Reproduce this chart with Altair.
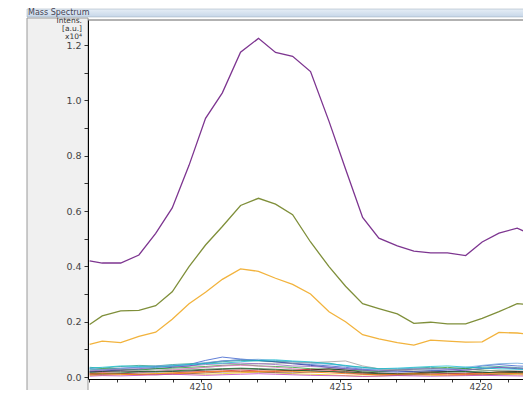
import altair as alt
import pandas as pd

# m/z positions of the spectrum points
mz = [4206.04, 4206.49, 4207.15, 4207.80, 4208.40, 4208.99, 4209.59, 4210.18, 4210.78,
      4211.43, 4212.07, 4212.68, 4213.29, 4213.93, 4214.59, 4215.18, 4215.79, 4216.37,
      4217.03, 4217.62, 4218.22, 4218.82, 4219.47, 4220.06, 4220.66, 4221.31, 4221.83]

# intensities (x10^4 a.u.)
purple = [0.420, 0.412, 0.412, 0.441, 0.519, 0.611, 0.765, 0.935, 1.027, 1.174, 1.224, 1.173, 1.159,
          1.104, 0.924, 0.752, 0.577, 0.502, 0.474, 0.455, 0.449, 0.449, 0.439, 0.488, 0.520, 0.538, 0.514]
olive = [0.190, 0.221, 0.239, 0.241, 0.258, 0.308, 0.399, 0.477, 0.544, 0.620, 0.646, 0.625, 0.587,
         0.488, 0.399, 0.328, 0.265, 0.247, 0.228, 0.194, 0.198, 0.192, 0.192, 0.212, 0.236, 0.265, 0.261]
orange = [0.118, 0.130, 0.124, 0.147, 0.162, 0.209, 0.265, 0.306, 0.353, 0.391, 0.382, 0.357, 0.335,
          0.300, 0.236, 0.200, 0.153, 0.138, 0.124, 0.115, 0.133, 0.130, 0.126, 0.127, 0.161, 0.159, 0.153]

noise_colors = ["#3a5fcd", "#1f2f9f", "#2a9d8f", "#2ca02c", "#6fa8dc", "#a0a0a0", "#e377c2", "#d62728",
                "#202020", "#e8d020", "#9467bd", "#8c564b", "#1a6b2a", "#ff7f0e", "#17becf", "#c040c0"]
noise = [
    [0.030,0.028,0.032,0.035,0.038,0.040,0.045,0.060,0.072,0.065,0.060,0.055,0.050,0.045,0.040,0.035,0.028,0.025,0.022,0.020,0.022,0.025,0.030,0.040,0.045,0.040,0.038],
    [0.020,0.022,0.025,0.028,0.030,0.035,0.040,0.050,0.058,0.062,0.060,0.055,0.048,0.042,0.035,0.030,0.025,0.020,0.018,0.020,0.022,0.020,0.025,0.030,0.035,0.030,0.028],
    [0.035,0.032,0.038,0.042,0.040,0.045,0.048,0.050,0.055,0.060,0.058,0.057,0.055,0.052,0.050,0.040,0.035,0.030,0.028,0.032,0.035,0.030,0.032,0.035,0.038,0.034,0.030],
    [0.025,0.030,0.028,0.025,0.030,0.032,0.035,0.038,0.042,0.045,0.040,0.038,0.035,0.030,0.028,0.025,0.022,0.020,0.025,0.028,0.030,0.035,0.030,0.025,0.022,0.020,0.018],
    [0.028,0.026,0.030,0.035,0.040,0.042,0.045,0.052,0.058,0.062,0.064,0.060,0.056,0.050,0.046,0.040,0.030,0.028,0.030,0.032,0.028,0.030,0.035,0.042,0.048,0.050,0.046],
    [0.015,0.018,0.020,0.022,0.025,0.028,0.030,0.035,0.040,0.045,0.048,0.050,0.050,0.052,0.055,0.058,0.040,0.030,0.025,0.022,0.020,0.018,0.020,0.022,0.025,0.022,0.020],
    [0.010,0.008,0.012,0.015,0.020,0.025,0.030,0.035,0.040,0.042,0.040,0.035,0.030,0.025,0.020,0.015,0.012,0.010,0.008,0.010,0.015,0.012,0.010,0.012,0.015,0.018,0.015],
    [0.012,0.015,0.013,0.010,0.012,0.015,0.018,0.020,0.022,0.025,0.022,0.020,0.024,0.028,0.025,0.020,0.015,0.012,0.010,0.012,0.015,0.013,0.012,0.015,0.018,0.016,0.014],
    [0.018,0.020,0.022,0.020,0.018,0.020,0.022,0.025,0.028,0.030,0.028,0.025,0.022,0.025,0.030,0.025,0.018,0.015,0.012,0.015,0.018,0.020,0.018,0.015,0.018,0.020,0.018],
    [0.005,0.006,0.008,0.010,0.012,0.015,0.012,0.010,0.012,0.015,0.018,0.015,0.012,0.010,0.008,0.005,0.003,0.004,0.006,0.008,0.006,0.005,0.006,0.008,0.010,0.008,0.006],
    [0.022,0.025,0.028,0.030,0.035,0.038,0.040,0.045,0.048,0.050,0.048,0.045,0.040,0.038,0.035,0.030,0.025,0.022,0.025,0.028,0.030,0.028,0.025,0.030,0.035,0.032,0.030],
    [0.008,0.010,0.012,0.010,0.008,0.010,0.012,0.015,0.018,0.020,0.018,0.016,0.015,0.018,0.020,0.015,0.010,0.008,0.006,0.008,0.010,0.012,0.010,0.008,0.010,0.012,0.010],
    [0.015,0.012,0.015,0.018,0.020,0.022,0.025,0.028,0.030,0.032,0.030,0.028,0.025,0.022,0.020,0.018,0.015,0.012,0.010,0.012,0.015,0.018,0.020,0.018,0.015,0.016,0.015],
    [0.010,0.012,0.010,0.008,0.010,0.012,0.015,0.018,0.020,0.018,0.020,0.022,0.020,0.018,0.015,0.012,0.010,0.008,0.010,0.012,0.010,0.008,0.010,0.012,0.014,0.012,0.010],
    [0.032,0.035,0.040,0.038,0.035,0.040,0.045,0.048,0.050,0.055,0.060,0.062,0.058,0.055,0.048,0.042,0.035,0.030,0.032,0.035,0.038,0.040,0.036,0.032,0.030,0.028,0.026],
    [0.003,0.005,0.004,0.006,0.008,0.010,0.008,0.006,0.008,0.010,0.012,0.010,0.008,0.006,0.005,0.004,0.002,0.003,0.005,0.004,0.003,0.004,0.005,0.006,0.005,0.004,0.003],
]

y_ticks = [0.0, 0.1, 0.2, 0.3, 0.4, 0.5, 0.6, 0.7, 0.8, 0.9, 1.0, 1.1, 1.2]
x_ticks = list(range(4206, 4222))
title_lines = ["Intens.", "[a.u.]", "x10\u2074"]

W, H = 435, 359

noise_rows = []
for k, s in enumerate(noise):
    for m, v in zip(mz, s):
        noise_rows.append({"mz": m, "val": v, "s": f"n{k:02d}"})
noise_df = pd.DataFrame(noise_rows)

xs = alt.Scale(domain=[4205.982, 4221.518], nice=False, zero=False)
ys = alt.Scale(domain=[-0.0072, 1.2904], nice=False, zero=False)

xax = alt.Axis(values=x_ticks, labelExpr="datum.value % 5 == 0 ? datum.label : ''", format="d",
               title=None, grid=False, tickSize=3, labelPadding=0, labelFont="DejaVu Sans",
               labelFontSize=9, labelColor="#444", domainColor="#000", tickColor="#333",
               labelFlush=False, zindex=1)
yax = alt.Axis(values=y_ticks,
               labelExpr="round(datum.value*10) % 2 == 0 ? format(datum.value, '.1f') : ''",
               title=None, grid=False, tickSize=4, labelPadding=3, labelFont="DejaVu Sans",
               labelFontSize=9.5, labelColor="#444", domainColor="#000", tickColor="#333", zindex=1)

one = pd.DataFrame({"a": [0]})

panel = alt.Chart(one).mark_rect(fill="#f0f0f0", stroke="#9a9a9a", strokeWidth=1).encode(
    x=alt.value(-61), x2=alt.value(0), y=alt.value(-2), y2=alt.value(H + 30))

titlebar = alt.Chart(one).mark_rect(
    color=alt.Gradient(gradient="linear",
                       stops=[alt.GradientStop(color="#e6eef6", offset=0),
                              alt.GradientStop(color="#c6d6e8", offset=1)],
                       x1=0, x2=0, y1=0, y2=1),
    stroke="#9aaabb", strokeWidth=0.5).encode(
    x=alt.value(-61), x2=alt.value(W + 10), y=alt.value(-11), y2=alt.value(-3))

titletext = alt.Chart(one).mark_text(text="Mass Spectrum", align="left", baseline="middle",
                                     font="DejaVu Sans", fontSize=8, color="#445").encode(
    x=alt.value(-60), y=alt.value(-7.5))

topborder = alt.Chart(one).mark_rule(color="#666", strokeWidth=1).encode(
    x=alt.value(0), x2=alt.value(W), y=alt.value(0))

ytitle_df = pd.DataFrame({"t": title_lines, "yy": [0.5, 8.5, 16.5]})
ytitle = alt.Chart(ytitle_df).mark_text(align="right", baseline="middle", font="DejaVu Sans",
                                        fontSize=7.5, color="#333").encode(
    text="t:N", x=alt.value(-6), y=alt.Y("yy:Q", scale=None))

noise_layer = alt.Chart(noise_df).mark_line(strokeWidth=0.8, clip=True).encode(
    x=alt.X("mz:Q", scale=xs, axis=xax),
    y=alt.Y("val:Q", scale=ys, axis=yax),
    color=alt.Color("s:N", scale=alt.Scale(domain=[f"n{k:02d}" for k in range(len(noise))],
                                           range=noise_colors), legend=None),
)

def main_line(vals, col):
    df = pd.DataFrame({"mz": mz, "val": vals})
    return alt.Chart(df).mark_line(color=col, strokeWidth=1.3, clip=True).encode(
        x=alt.X("mz:Q", scale=xs, axis=xax),
        y=alt.Y("val:Q", scale=ys, axis=yax))

chart = alt.layer(
    panel, titlebar, titletext, ytitle, noise_layer,
    main_line(orange, "#f2b33d"),
    main_line(olive, "#7f8f3a"),
    main_line(purple, "#7d3590"),
    topborder,
).properties(
    width=W, height=H, padding={"left": 80, "top": 12, "right": 0, "bottom": 11},
    autosize=alt.AutoSizeParams(type="none"), background="white"
).configure_view(strokeWidth=0, fill="white")

chart.save("out.html", embed_options={"renderer": "svg", "actions": False})
